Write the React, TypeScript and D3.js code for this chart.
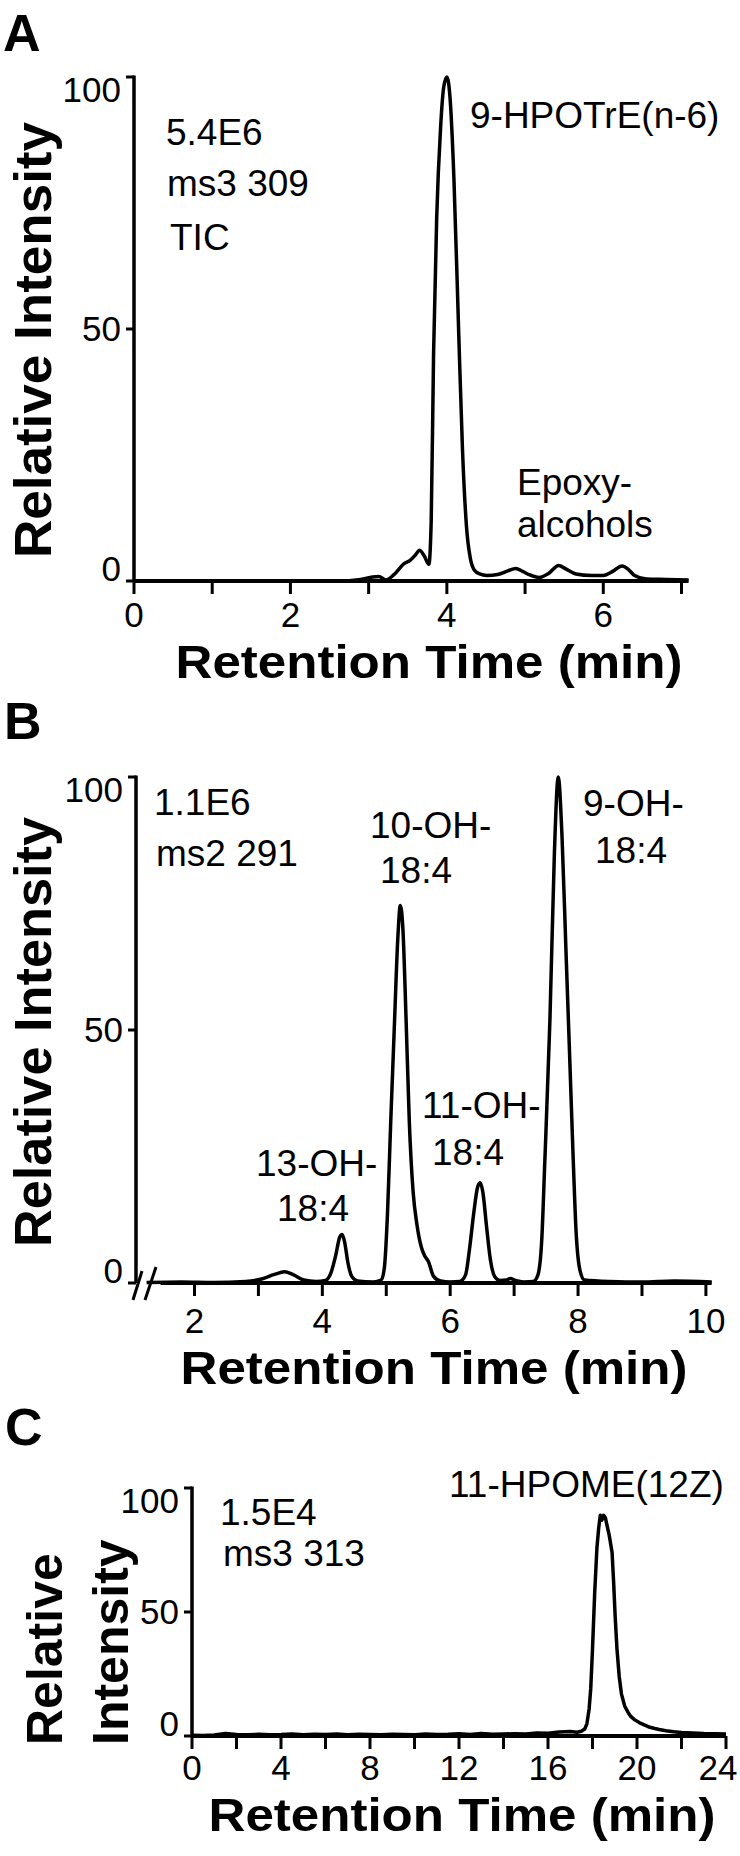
import React from 'react'
import * as d3 from 'd3'

const FONT = '"Liberation Sans", Arial, Helvetica, sans-serif'

// chromatogram traces: [retention time (min), relative intensity (%)]
const traceA: [number, number][] = [
  [0, 0], [2.6, 0], [2.9, 0.3], [3.05, 0.8], [3.13, 0.9], [3.22, 0.2], [3.32, 1.2], [3.45, 3.4],
  [3.53, 4.1], [3.6, 5.2], [3.65, 6.1], [3.71, 5.0], [3.77, 3.3], [3.8, 12], [3.83, 45],
  [3.87, 72], [3.92, 90], [3.96, 98], [4.0, 100], [4.04, 96], [4.09, 80], [4.15, 50], [4.2, 26],
  [4.25, 11], [4.3, 4.5], [4.35, 2.2], [4.42, 1.4], [4.51, 1.1], [4.65, 1.3], [4.78, 2.0],
  [4.88, 2.5], [4.97, 1.9], [5.06, 1.2], [5.18, 0.7], [5.3, 1.5], [5.43, 3.1], [5.52, 2.4],
  [5.65, 1.4], [5.85, 1.1], [6.0, 1.1], [6.12, 1.9], [6.24, 3.0], [6.32, 2.3], [6.4, 1.1],
  [6.55, 0.4], [6.8, 0.3], [7.09, 0.2]
]

const traceB: [number, number][] = [
  [1.25, 0.1], [1.8, 0.2], [2.3, 0.1], [2.8, 0.3], [3.05, 0.8], [3.25, 1.7], [3.41, 2.2],
  [3.55, 1.6], [3.71, 0.6], [3.9, 0.3], [4.05, 0.5], [4.14, 2.2], [4.21, 5.5], [4.27, 9.0],
  [4.31, 9.6], [4.35, 8.0], [4.4, 4.0], [4.46, 1.3], [4.55, 0.4], [4.8, 0.2], [4.92, 0.6],
  [4.97, 3], [5.02, 14], [5.07, 32], [5.13, 52], [5.18, 68], [5.22, 74.6], [5.26, 70],
  [5.31, 52], [5.36, 32], [5.42, 18], [5.48, 11.5], [5.55, 7.0], [5.6, 5.4], [5.66, 4.2],
  [5.74, 1.3], [5.85, 0.4], [6.0, 0.2], [6.15, 0.3], [6.24, 1.6], [6.3, 6.5], [6.37, 14],
  [6.43, 19], [6.47, 19.8], [6.51, 18], [6.57, 11], [6.63, 4.5], [6.7, 1.2], [6.78, 0.5],
  [6.88, 0.6], [6.94, 0.9], [7.02, 0.5], [7.15, 0.2], [7.3, 0.3], [7.37, 1.5], [7.43, 8],
  [7.48, 24], [7.56, 52], [7.63, 85], [7.69, 100], [7.75, 88], [7.81, 66], [7.86, 48],
  [7.92, 26], [7.97, 10], [8.03, 2.5], [8.1, 0.6], [8.5, 0.3], [9.0, 0.2], [9.5, 0.4],
  [10.09, 0.2]
]

const traceC: [number, number][] = [
  [0, 0.3], [0.5, 0.2], [1.0, 0.4], [1.5, 1.0], [2.0, 0.6], [2.5, 0.5], [3.0, 0.7], [3.5, 0.5],
  [4.0, 0.6], [4.5, 0.8], [5.0, 0.5], [5.5, 0.7], [6.0, 0.6], [6.5, 0.8], [7.0, 0.5], [7.5, 0.7],
  [8.0, 0.6], [8.5, 0.5], [9.0, 0.7], [9.5, 0.6], [10.0, 0.5], [10.5, 0.8], [11.0, 0.6],
  [11.5, 0.7], [12.0, 0.9], [12.5, 0.6], [13.0, 1.0], [13.5, 0.7], [14.0, 0.8], [14.5, 0.9],
  [15.0, 0.8], [15.5, 1.2], [16.0, 1.1], [16.5, 1.6], [17.0, 1.8], [17.3, 1.5], [17.5, 1.9],
  [17.65, 2.8], [17.75, 5], [17.85, 11], [17.92, 19], [18.0, 35], [18.1, 58], [18.2, 76],
  [18.28, 84], [18.35, 89], [18.42, 87], [18.5, 89], [18.58, 88], [18.65, 85], [18.75, 81],
  [18.88, 74], [18.95, 62], [19.02, 48], [19.1, 35], [19.2, 24], [19.3, 17], [19.45, 12],
  [19.6, 9.5], [19.73, 7.8], [19.9, 6.5], [20.1, 5.4], [20.3, 4.6], [20.58, 3.5], [20.8, 3.0],
  [21.0, 2.6], [21.3, 2.1], [21.65, 1.7], [22.0, 1.4], [22.5, 1.2], [23.0, 1.0], [23.5, 0.9],
  [24.0, 0.8]
]

const yTickValues = [0, 50, 100]

const xTicksA = [0, 1, 2, 3, 4, 5, 6, 7]
const xLabelsA = [0, 2, 4, 6]
const xTicksB = [2, 3, 4, 5, 6, 7, 8, 9, 10]
const xLabelsB = [2, 4, 6, 8, 10]
const xTicksC = [0, 2, 4, 6, 8, 10, 12, 14, 16, 18, 20, 22, 24]
const xLabelsC = [0, 4, 8, 12, 16, 20, 24]

const notesA = ['5.4E6', 'ms3 309', 'TIC']
const peaksA = ['9-HPOTrE(n-6)', 'Epoxy-', 'alcohols']
const notesB = ['1.1E6', 'ms2 291']
const peaksB = ['10-OH-', '18:4', '9-OH-', '18:4', '11-OH-', '18:4', '13-OH-', '18:4']
const notesC = ['1.5E4', 'ms3 313']
const peaksC = ['11-HPOME(12Z)']

const xTitle = 'Retention Time (min)'
const yTitle = 'Relative Intensity'
const yTitleSplit = ['Relative', 'Intensity']

// layout of each panel (pixels)
const panels = [
  {
    letter: 'A', letterPos: [3, 51], trace: traceA,
    xDomain: [0, 7], xRange: [134, 681.5], xStart: 0, xEnd: 7.09,
    yRange: [581, 77], axisX: 134, ticks: xTicksA, labels: xLabelsA, labelDy: 46,
    title: [429, 678], yTitle: { x: 51, y: 340, len: 436 },
    texts: [...notesA, ...peaksA],
    textPos: [[166, 145], [167, 196], [170, 250], [470, 128], [517, 495], [517, 537]],
    broken: false
  },
  {
    letter: 'B', letterPos: [4, 739], trace: traceB,
    xDomain: [2, 10], xRange: [194.5, 705.9], xStart: 1.25, xEnd: 10.09,
    yRange: [1283, 777], axisX: 136, ticks: xTicksB, labels: xLabelsB, labelDy: 50,
    title: [434, 1384], yTitle: { x: 51, y: 1032, len: 430 },
    texts: [...notesB, ...peaksB],
    textPos: [[154, 815], [156, 866], [370, 838], [380, 883], [583, 816], [595, 863],
      [422, 1118], [432, 1165], [256, 1176], [277, 1221]],
    broken: true
  },
  {
    letter: 'C', letterPos: [5, 1445], trace: traceC,
    xDomain: [0, 24], xRange: [192, 726], xStart: 0, xEnd: 24,
    yRange: [1736, 1488], axisX: 192, ticks: xTicksC, labels: xLabelsC, labelDy: 44,
    title: [462, 1831], yTitle: null,
    texts: [...notesC, ...peaksC],
    textPos: [[220, 1525], [223, 1566], [449, 1497]],
    broken: false
  }
]

const Panel = ({ p }: { p: any }) => {
  const x = d3.scaleLinear().domain(p.xDomain).range(p.xRange)
  const y = d3.scaleLinear().domain([0, 100]).range(p.yRange)
  const line = d3.line<[number, number]>()
    .x(d => x(d[0]))
    .y(d => y(d[1]))
    .curve(p.letter === 'C' ? d3.curveLinear : d3.curveMonotoneX)
  const y0 = y(0)
  const xAxisStart = p.broken ? x(p.xStart) + 14 : p.axisX
  const yLabelDy = (v: number) => (v === 100 ? 25 : v === 50 ? 12 : 0)
  // keep the last tick label inside the picture
  const labelX = (t: number) => Math.min(x(t), 738 - String(t).length * 10)

  return (
    <g fontFamily={FONT}>
      <text x={p.letterPos[0]} y={p.letterPos[1]} fontSize={52} fontWeight="bold">{p.letter}</text>

      {/* y axis */}
      <line x1={p.axisX} x2={p.axisX} y1={y(100) - 1.5} y2={y0} stroke="#000" strokeWidth={3.5} />
      {yTickValues.map(v => (
        <g key={v}>
          <line x1={p.axisX - 8} x2={p.axisX} y1={y(v)} y2={y(v)} stroke="#000" strokeWidth={3} />
          <text x={p.axisX - 13} y={y(v) + yLabelDy(v)} fontSize={35} textAnchor="end">{v}</text>
        </g>
      ))}

      {/* x axis */}
      <line x1={xAxisStart} x2={x(p.xEnd)} y1={y0} y2={y0} stroke="#000" strokeWidth={4} />
      {p.ticks.map((t: number) => (
        <line key={t} x1={x(t)} x2={x(t)} y1={y0} y2={y0 + 13} stroke="#000" strokeWidth={3} />
      ))}
      {p.labels.map((t: number) => (
        <text key={t} x={labelX(t)} y={y0 + p.labelDy} fontSize={35} textAnchor="middle">{t}</text>
      ))}
      {p.broken && (
        <g stroke="#000" strokeWidth={3}>
          <line x1={p.axisX - 3} y1={y0 + 17} x2={p.axisX + 6} y2={y0 - 12} />
          <line x1={p.axisX + 9} y1={y0 + 17} x2={p.axisX + 20} y2={y0 - 16} />
        </g>
      )}

      {/* trace */}
      <path d={line(p.trace) || ''} fill="none" stroke="#000" strokeWidth={3.5} strokeLinejoin="round" />

      {/* annotations */}
      {p.texts.map((s: string, i: number) => (
        <text key={i} x={p.textPos[i][0]} y={p.textPos[i][1]} fontSize={37}>{s}</text>
      ))}

      {/* titles */}
      <text x={p.title[0]} y={p.title[1]} fontSize={46} fontWeight="bold" textAnchor="middle"
        textLength={507} lengthAdjust="spacingAndGlyphs">{xTitle}</text>
      {p.yTitle ? (
        <text transform={`translate(${p.yTitle.x},${p.yTitle.y}) rotate(-90)`} fontSize={52}
          fontWeight="bold" textAnchor="middle" textLength={p.yTitle.len}
          lengthAdjust="spacingAndGlyphs">{yTitle}</text>
      ) : (
        <g fontSize={50} fontWeight="bold">
          <text transform={`translate(62,1745) rotate(-90)`}>{yTitleSplit[0]}</text>
          <text transform={`translate(128,1745) rotate(-90)`}>{yTitleSplit[1]}</text>
        </g>
      )}
    </g>
  )
}

export default function App() {
  return (
    <svg width={740} height={1856} viewBox="0 0 740 1856"
      style={{ position: 'absolute', left: 0, top: 0, display: 'block', background: '#fff' }}>
      <rect width={740} height={1856} fill="#fff" />
      {panels.map(p => <Panel key={p.letter} p={p} />)}
    </svg>
  )
}
